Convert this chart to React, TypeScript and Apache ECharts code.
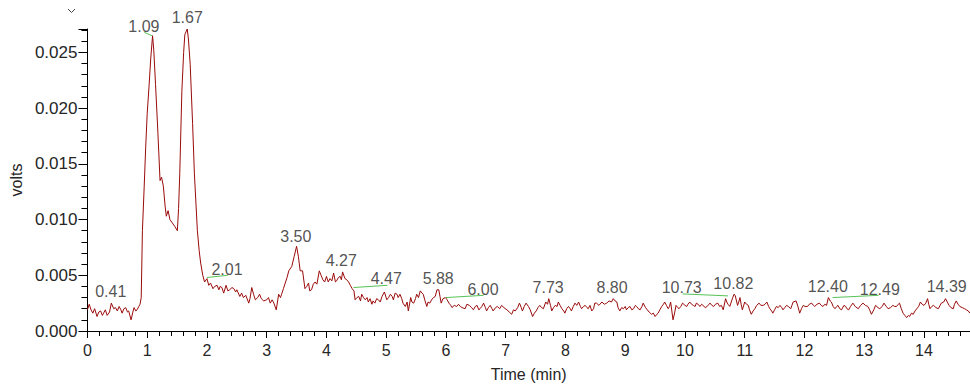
import React, { useEffect, useRef } from "react";
import * as echarts from "echarts";

// Retention time (min) and detector signal (volts)
const times: number[] = [
  0.00, 0.03, 0.06, 0.09, 0.12, 0.16, 0.19, 0.22, 0.25, 0.27, 0.30, 0.33, 0.37, 0.40, 0.44, 0.47, 0.50, 0.53, 0.56, 0.58,
  0.61, 0.64, 0.67, 0.69, 0.73, 0.76, 0.78, 0.81, 0.83, 0.86, 0.88, 0.90, 0.92, 0.95, 0.975, 1.00, 1.03, 1.06, 1.09, 1.11,
  1.14, 1.18, 1.215, 1.24, 1.27, 1.30, 1.32, 1.35, 1.38, 1.42, 1.46, 1.505, 1.525, 1.545, 1.58, 1.61, 1.63, 1.67, 1.69, 1.72,
  1.76, 1.79, 1.84, 1.87, 1.895, 1.93, 1.96, 2.00, 2.03, 2.06, 2.10, 2.13, 2.17, 2.20, 2.22, 2.25, 2.28, 2.32, 2.35, 2.38,
  2.42, 2.45, 2.48, 2.50, 2.55, 2.58, 2.61, 2.65, 2.70, 2.72, 2.75, 2.78, 2.81, 2.85, 2.88, 2.91, 2.95, 3.00, 3.03, 3.06,
  3.09, 3.12, 3.16, 3.20, 3.23, 3.25, 3.28, 3.31, 3.34, 3.37, 3.42, 3.46, 3.50, 3.53, 3.56, 3.60, 3.64, 3.67, 3.70, 3.72,
  3.75, 3.78, 3.81, 3.84, 3.88, 3.91, 3.94, 3.97, 4.00, 4.03, 4.06, 4.09, 4.12, 4.15, 4.17, 4.20, 4.23, 4.25, 4.27, 4.31,
  4.34, 4.37, 4.40, 4.43, 4.46, 4.48, 4.51, 4.54, 4.57, 4.59, 4.62, 4.65, 4.68, 4.70, 4.73, 4.76, 4.78, 4.81, 4.84, 4.87,
  4.90, 4.93, 4.97, 5.01, 5.04, 5.07, 5.10, 5.12, 5.15, 5.18, 5.20, 5.23, 5.26, 5.28, 5.32, 5.35, 5.37, 5.41, 5.43, 5.46,
  5.49, 5.51, 5.54, 5.57, 5.60, 5.62, 5.65, 5.68, 5.70, 5.73, 5.76, 5.79, 5.82, 5.85, 5.88, 5.90, 5.92, 5.95, 5.99, 6.02,
  6.05, 6.08, 6.10, 6.14, 6.18, 6.21, 6.24, 6.27, 6.32, 6.35, 6.39, 6.43, 6.46, 6.49, 6.52, 6.55, 6.57, 6.60, 6.63, 6.66,
  6.68, 6.71, 6.74, 6.77, 6.79, 6.83, 6.86, 6.90, 6.93, 6.97, 7.02, 7.06, 7.10, 7.13, 7.16, 7.20, 7.23, 7.26, 7.28, 7.31,
  7.34, 7.38, 7.41, 7.45, 7.48, 7.51, 7.54, 7.57, 7.60, 7.63, 7.67, 7.70, 7.72, 7.75, 7.77, 7.80, 7.83, 7.86, 7.88, 7.91,
  7.94, 7.97, 7.99, 8.02, 8.05, 8.08, 8.10, 8.13, 8.16, 8.19, 8.22, 8.25, 8.27, 8.30, 8.33, 8.36, 8.38, 8.41, 8.44, 8.47,
  8.49, 8.52, 8.56, 8.61, 8.65, 8.69, 8.73, 8.77, 8.80, 8.83, 8.86, 8.88, 8.91, 8.94, 8.97, 9.00, 9.02, 9.05, 9.08, 9.11,
  9.14, 9.17, 9.19, 9.22, 9.25, 9.28, 9.30, 9.34, 9.37, 9.40, 9.44, 9.47, 9.50, 9.53, 9.55, 9.58, 9.61, 9.64, 9.66, 9.69,
  9.72, 9.74, 9.76, 9.78, 9.80, 9.83, 9.85, 9.88, 9.90, 9.93, 9.96, 10.00, 10.03, 10.05, 10.08, 10.11, 10.14, 10.17, 10.19, 10.22,
  10.25, 10.28, 10.30, 10.34, 10.37, 10.40, 10.42, 10.45, 10.48, 10.51, 10.55, 10.58, 10.61, 10.64, 10.68, 10.70, 10.72, 10.75, 10.78, 10.80,
  10.82, 10.84, 10.88, 10.90, 10.92, 10.94, 10.96, 11.00, 11.03, 11.06, 11.08, 11.11, 11.14, 11.17, 11.20, 11.24, 11.27, 11.31, 11.34, 11.37,
  11.40, 11.42, 11.45, 11.47, 11.50, 11.53, 11.56, 11.59, 11.62, 11.64, 11.67, 11.70, 11.73, 11.77, 11.79, 11.81, 11.86, 11.89, 11.92, 11.95,
  11.98, 12.01, 12.05, 12.08, 12.12, 12.15, 12.17, 12.21, 12.25, 12.28, 12.31, 12.34, 12.37, 12.40, 12.43, 12.45, 12.48, 12.51, 12.54, 12.56,
  12.59, 12.62, 12.66, 12.69, 12.71, 12.74, 12.77, 12.81, 12.85, 12.90, 12.94, 12.98, 13.02, 13.06, 13.09, 13.12, 13.16, 13.19, 13.23, 13.26,
  13.30, 13.33, 13.37, 13.40, 13.44, 13.48, 13.51, 13.54, 13.57, 13.59, 13.62, 13.65, 13.68, 13.71, 13.74, 13.76, 13.79, 13.82, 13.85, 13.88,
  13.91, 13.94, 13.97, 14.00, 14.03, 14.06, 14.08, 14.10, 14.13, 14.16, 14.20, 14.24, 14.27, 14.29, 14.33, 14.36, 14.39, 14.42, 14.45, 14.49,
  14.51, 14.54, 14.57, 14.60, 14.64, 14.68, 14.71, 14.74, 14.77,
];

const volts: number[] = [
  0.0019, 0.0024, 0.0019, 0.0016, 0.0020, 0.0013, 0.0017, 0.0018, 0.0014, 0.0016, 0.0019, 0.0014, 0.0017, 0.0025, 0.0020, 0.0021, 0.0018, 0.0022, 0.0019, 0.0016,
  0.0020, 0.0021, 0.0017, 0.0018, 0.0010, 0.0017, 0.0021, 0.0018, 0.0019, 0.0022, 0.0024, 0.0030, 0.0090, 0.0130, 0.0165, 0.0195, 0.0219, 0.0245, 0.0265, 0.0252,
  0.0221, 0.0177, 0.0135, 0.0138, 0.0130, 0.0112, 0.0103, 0.0108, 0.0100, 0.0097, 0.0094, 0.0090, 0.0110, 0.0141, 0.0215, 0.0250, 0.0266, 0.0271, 0.0262, 0.0239,
  0.0186, 0.0141, 0.0090, 0.0072, 0.0061, 0.0050, 0.0044, 0.0047, 0.0041, 0.0043, 0.0038, 0.0040, 0.0041, 0.0037, 0.0040, 0.0039, 0.0034, 0.0041, 0.0036, 0.0037,
  0.0039, 0.0038, 0.0035, 0.0037, 0.0031, 0.0034, 0.0030, 0.0032, 0.0025, 0.0029, 0.0039, 0.0033, 0.0028, 0.0030, 0.0033, 0.0029, 0.0027, 0.0028, 0.0030, 0.0025,
  0.0028, 0.0025, 0.0019, 0.0033, 0.0030, 0.0033, 0.0038, 0.0043, 0.0048, 0.0054, 0.0058, 0.0067, 0.0076, 0.0067, 0.0054, 0.0054, 0.0038, 0.0040, 0.0043, 0.0036,
  0.0037, 0.0042, 0.0044, 0.0042, 0.0054, 0.0050, 0.0046, 0.0044, 0.0049, 0.0044, 0.0047, 0.0045, 0.0052, 0.0044, 0.0045, 0.0048, 0.0049, 0.0046, 0.0053, 0.0047,
  0.0046, 0.0044, 0.0041, 0.0038, 0.0036, 0.0028, 0.0030, 0.0031, 0.0027, 0.0033, 0.0030, 0.0028, 0.0030, 0.0026, 0.0029, 0.0024, 0.0027, 0.0025, 0.0029, 0.0028,
  0.0026, 0.0031, 0.0035, 0.0028, 0.0030, 0.0033, 0.0031, 0.0028, 0.0034, 0.0033, 0.0030, 0.0033, 0.0029, 0.0025, 0.0022, 0.0026, 0.0018, 0.0030, 0.0026, 0.0025,
  0.0029, 0.0033, 0.0030, 0.0036, 0.0034, 0.0033, 0.0027, 0.0022, 0.0026, 0.0025, 0.0028, 0.0030, 0.0031, 0.0037, 0.0037, 0.0031, 0.0025, 0.0029, 0.0030, 0.0028,
  0.0025, 0.0023, 0.0021, 0.0023, 0.0022, 0.0024, 0.0022, 0.0021, 0.0020, 0.0024, 0.0023, 0.0021, 0.0019, 0.0022, 0.0023, 0.0019, 0.0020, 0.0022, 0.0025, 0.0021,
  0.0018, 0.0021, 0.0023, 0.0020, 0.0018, 0.0021, 0.0022, 0.0020, 0.0023, 0.0021, 0.0019, 0.0017, 0.0015, 0.0019, 0.0018, 0.0021, 0.0025, 0.0021, 0.0018, 0.0022,
  0.0025, 0.0022, 0.0019, 0.0013, 0.0016, 0.0018, 0.0021, 0.0023, 0.0021, 0.0020, 0.0026, 0.0024, 0.0029, 0.0023, 0.0018, 0.0021, 0.0023, 0.0022, 0.0026, 0.0023,
  0.0020, 0.0018, 0.0016, 0.0020, 0.0022, 0.0020, 0.0018, 0.0022, 0.0025, 0.0023, 0.0026, 0.0022, 0.0020, 0.0022, 0.0023, 0.0021, 0.0020, 0.0023, 0.0018, 0.0020,
  0.0025, 0.0025, 0.0023, 0.0026, 0.0024, 0.0025, 0.0027, 0.0026, 0.0029, 0.0027, 0.0026, 0.0021, 0.0018, 0.0021, 0.0020, 0.0022, 0.0019, 0.0021, 0.0022, 0.0019,
  0.0020, 0.0023, 0.0022, 0.0020, 0.0019, 0.0022, 0.0025, 0.0021, 0.0019, 0.0017, 0.0015, 0.0016, 0.0013, 0.0015, 0.0016, 0.0019, 0.0022, 0.0024, 0.0026, 0.0023,
  0.0020, 0.0022, 0.0026, 0.0018, 0.0010, 0.0017, 0.0023, 0.0021, 0.0020, 0.0022, 0.0025, 0.0023, 0.0022, 0.0024, 0.0026, 0.0024, 0.0023, 0.0022, 0.0025, 0.0024,
  0.0022, 0.0024, 0.0023, 0.0021, 0.0022, 0.0024, 0.0025, 0.0023, 0.0022, 0.0024, 0.0025, 0.0022, 0.0023, 0.0019, 0.0029, 0.0026, 0.0024, 0.0022, 0.0027, 0.0030,
  0.0033, 0.0032, 0.0023, 0.0026, 0.0030, 0.0024, 0.0019, 0.0026, 0.0024, 0.0023, 0.0019, 0.0015, 0.0018, 0.0020, 0.0023, 0.0025, 0.0023, 0.0023, 0.0024, 0.0026,
  0.0022, 0.0020, 0.0018, 0.0016, 0.0019, 0.0022, 0.0021, 0.0023, 0.0021, 0.0019, 0.0021, 0.0023, 0.0022, 0.0020, 0.0023, 0.0026, 0.0027, 0.0022, 0.0016, 0.0020,
  0.0023, 0.0022, 0.0022, 0.0024, 0.0025, 0.0023, 0.0022, 0.0024, 0.0025, 0.0023, 0.0022, 0.0024, 0.0023, 0.0030, 0.0027, 0.0026, 0.0022, 0.0020, 0.0022, 0.0023,
  0.0020, 0.0019, 0.0023, 0.0022, 0.0020, 0.0019, 0.0022, 0.0025, 0.0022, 0.0020, 0.0023, 0.0025, 0.0023, 0.0022, 0.0019, 0.0015, 0.0019, 0.0023, 0.0021, 0.0020,
  0.0022, 0.0025, 0.0022, 0.0020, 0.0021, 0.0023, 0.0022, 0.0022, 0.0024, 0.0025, 0.0020, 0.0016, 0.0014, 0.0012, 0.0014, 0.0013, 0.0016, 0.0015, 0.0018, 0.0020,
  0.0022, 0.0026, 0.0024, 0.0023, 0.0025, 0.0029, 0.0024, 0.0020, 0.0022, 0.0023, 0.0021, 0.0020, 0.0023, 0.0025, 0.0026, 0.0029, 0.0026, 0.0023, 0.0021, 0.0020,
  0.0024, 0.0027, 0.0024, 0.0022, 0.0021, 0.0020, 0.0019, 0.0018, 0.0016,
];

// Peak labels: text, anchor time, anchor height (bottom of the label)
const peakNames: string[] = ["0.41", "1.09", "1.67", "2.01", "3.50", "4.27", "4.47", "5.88", "6.00", "7.73", "8.80", "10.73", "10.82", "12.40", "12.49", "14.39"];
const peakLabelTimes: number[] = [0.39, 0.945, 1.67, 2.336, 3.487, 4.247, 5.0, 5.87, 6.62, 7.71, 8.78, 9.945, 10.81, 12.39, 13.26, 14.38];
const peakLabelHeights: number[] = [0.0028, 0.0266, 0.0274, 0.0048, 0.0078, 0.0056, 0.0040, 0.0040, 0.0030, 0.0032, 0.0032, 0.0032, 0.0035, 0.0033, 0.0030, 0.0033];

// Integration baselines (green): start time, start volts, end time, end volts
const baseStartT: number[] = [0.953, 2.0, 4.453, 6.0, 9.96, 12.47];
const baseStartV: number[] = [0.0268, 0.0048, 0.0039, 0.0030, 0.00333, 0.0030];
const baseEndT: number[] = [1.08, 2.35, 5.02, 6.63, 10.72, 13.24];
const baseEndV: number[] = [0.0265, 0.0050, 0.0041, 0.0032, 0.00315, 0.0032];

const xTickInterval = 1;
const yTickInterval = 0.005;

export default function App() {
  const ref = useRef<HTMLDivElement>(null);

  useEffect(() => {
    document.body.style.margin = "0";
    if (!ref.current) return;
    const chart = echarts.init(ref.current, undefined, { renderer: "svg" });

    const trace = times.map((t, i) => [t, volts[i]]);
    const labels = peakNames.map((n, i) => ({ value: [peakLabelTimes[i], peakLabelHeights[i]], name: n }));
    const baselineData: any[] = [];
    baseStartT.forEach((t, i) => {
      baselineData.push([t, baseStartV[i]]);
      baselineData.push([baseEndT[i], baseEndV[i]]);
      baselineData.push("-");
    });

    const font = "'Liberation Sans', Arial, sans-serif";
    const textColor = "#262626";

    chart.setOption({
      animation: false,
      grid: { left: 87, top: 29, width: 883, height: 304, containLabel: false },
      xAxis: {
        type: "value",
        min: 0,
        max: 14.77,
        interval: xTickInterval,
        name: "Time (min)",
        nameLocation: "middle",
        nameGap: 35,
        nameTextStyle: { fontFamily: font, fontSize: 16, color: textColor },
        axisLine: { onZero: false, lineStyle: { color: "#000", width: 1 } },
        axisTick: { show: true, inside: false, length: 7, lineStyle: { color: "#000" } },
        minorTick: { show: true, splitNumber: 5, length: 5, lineStyle: { color: "#000" } },
        axisLabel: { fontFamily: font, fontSize: 16, color: textColor, margin: 11, showMaxLabel: false },
        splitLine: { show: false },
        minorSplitLine: { show: false },
      },
      yAxis: {
        type: "value",
        min: 0,
        max: 0.0271,
        interval: yTickInterval,
        name: "volts",
        nameLocation: "middle",
        nameGap: 63,
        nameRotate: 90,
        nameTextStyle: { fontFamily: font, fontSize: 16, color: textColor },
        axisLine: { show: true, onZero: false, lineStyle: { color: "#000", width: 1 } },
        axisTick: { show: true, inside: false, length: 9, lineStyle: { color: "#000" } },
        minorTick: { show: true, splitNumber: 5, length: 6, lineStyle: { color: "#000" } },
        axisLabel: {
          fontFamily: font,
          fontSize: 17,
          color: textColor,
          margin: 10,
          showMaxLabel: false,
          formatter: (v: number) => v.toFixed(3),
        },
        splitLine: { show: false },
        minorSplitLine: { show: false },
      },
      graphic: [
        {
          type: "polyline",
          shape: { points: [[68, 9], [71.5, 12.5], [75, 9]] },
          style: { stroke: "#444", lineWidth: 1, fill: "none" },
        },
      ],
      series: [
        {
          type: "line",
          name: "signal",
          data: trace,
          showSymbol: false,
          symbol: "none",
          lineStyle: { color: "#9a0a0a", width: 1 },
          silent: true,
          z: 2,
        },
        {
          type: "line",
          name: "baselines",
          data: baselineData,
          connectNulls: false,
          showSymbol: false,
          symbol: "none",
          lineStyle: { color: "#55c255", width: 1 },
          silent: true,
          z: 3,
        },
        {
          type: "scatter",
          name: "peaks",
          data: labels,
          symbolSize: 0,
          clip: false,
          silent: true,
          z: 4,
          label: {
            show: true,
            position: "top",
            distance: 0,
            formatter: (p: any) => p.name,
            fontFamily: font,
            fontSize: 16,
            color: textColor,
          },
        },
      ],
    });

    return () => chart.dispose();
  }, []);

  return <div ref={ref} style={{ width: 970, height: 387 }} />;
}
